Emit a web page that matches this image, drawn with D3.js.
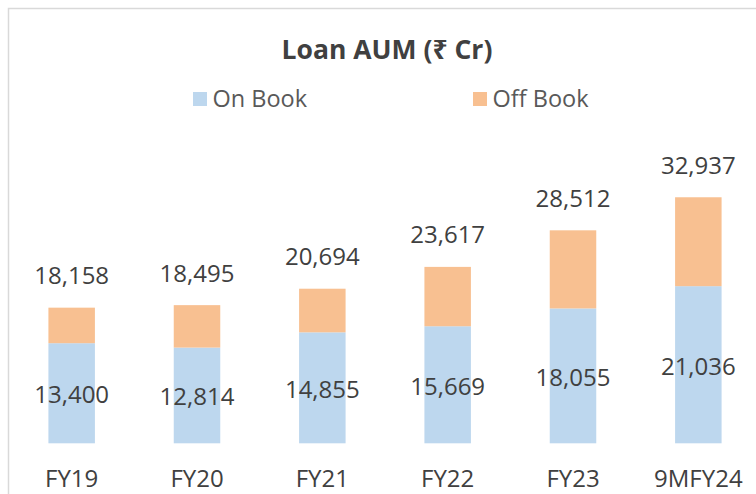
<!DOCTYPE html>
<html>
<head>
<meta charset="utf-8">
<script src="https://cdn.jsdelivr.net/npm/d3@7/dist/d3.min.js"></script>
<style>
  html, body { margin: 0; padding: 0; background: #fff; }
  svg { display: block; }
  text { font-family: "Open Sans", "Noto Sans", "DejaVu Sans", sans-serif; }
</style>
</head>
<body>
<svg id="chart" width="756" height="494"></svg>
<script>
// Loan AUM by year, ₹ crore
const categories = ["FY19", "FY20", "FY21", "FY22", "FY23", "9MFY24"];
const onBook  = [13400, 12814, 14855, 15669, 18055, 21036];
const offBook = [4758, 5681, 5839, 7948, 10457, 11901];
const seriesNames = ["On Book", "Off Book"];
const seriesColors = ["#BDD7EE", "#F8C091"];
const chartTitle = "Loan AUM (₹ Cr)";

const svg = d3.select("#chart");
const W = 756, H = 494;

// chart frame (runs past the right and bottom edges of the page)
svg.append("rect")
  .attr("x", 8.5).attr("y", 8.5)
  .attr("width", 770).attr("height", 500)
  .attr("fill", "#fff")
  .attr("stroke", "#D9D9D9")
  .attr("stroke-width", 1.5);

// title
svg.append("text")
  .attr("x", 387).attr("y", 59)
  .attr("text-anchor", "middle")
  .attr("font-size", 26.5)
  .attr("font-weight", 700)
  .attr("fill", "#404040")
  .text(chartTitle);

// legend
const legendX = d3.scalePoint().domain(seriesNames).range([193, 473]);
const legend = svg.append("g").selectAll("g")
  .data(seriesNames)
  .join("g")
  .attr("transform", d => `translate(${legendX(d)},92)`);
legend.append("rect")
  .attr("width", 14).attr("height", 14)
  .attr("fill", (d, i) => seriesColors[i]);
legend.append("text")
  .attr("x", 19.5).attr("y", 14.7)
  .attr("font-size", 23.5)
  .attr("fill", "#595959")
  .text(d => d);

// scales
const x = d3.scaleBand()
  .domain(categories)
  .range([9, 761])
  .paddingInner(0.629)
  .paddingOuter(0.3145);

const y = d3.scaleLinear()
  .domain([0, 35000])
  .range([443.3, 443.3 - 35000 * 0.00747]);

const rows = categories.map((c, i) => ({
  cat: c,
  on: onBook[i],
  off: offBook[i],
  total: onBook[i] + offBook[i]
}));

const stack = d3.stack().keys(["on", "off"])(rows);

const plot = svg.append("g");
plot.selectAll("g.series")
  .data(stack)
  .join("g")
  .attr("class", "series")
  .attr("fill", (d, i) => seriesColors[i])
  .selectAll("rect")
  .data(d => d)
  .join("rect")
  .attr("x", d => x(d.data.cat))
  .attr("width", x.bandwidth())
  .attr("y", d => y(d[1]))
  .attr("height", d => y(d[0]) - y(d[1]));

const fmt = d3.format(",");

// on-book values, centred in the blue segment
plot.selectAll("text.on")
  .data(rows)
  .join("text")
  .attr("class", "on")
  .attr("x", d => x(d.cat) + x.bandwidth() / 2)
  .attr("y", d => (y(0) + y(d.on)) / 2 + 10)
  .attr("text-anchor", "middle")
  .attr("font-size", 24)
  .attr("fill", "#404040")
  .text(d => fmt(d.on));

// totals above each stack
plot.selectAll("text.total")
  .data(rows)
  .join("text")
  .attr("class", "total")
  .attr("x", d => x(d.cat) + x.bandwidth() / 2)
  .attr("y", d => y(d.total) - 23.5)
  .attr("text-anchor", "middle")
  .attr("font-size", 24)
  .attr("fill", "#404040")
  .text(d => fmt(d.total));

// category axis (labels only)
const xAxis = svg.append("g")
  .attr("transform", "translate(0,443.3)")
  .call(d3.axisBottom(x).tickSize(0).tickPadding(0));
xAxis.select(".domain").remove();
xAxis.selectAll("text")
  .attr("y", 44)
  .attr("dy", null)
  .attr("font-size", 24)
  .attr("font-family", "\"Open Sans\", \"Noto Sans\", sans-serif")
  .attr("fill", "#404040");
</script>
</body>
</html>
